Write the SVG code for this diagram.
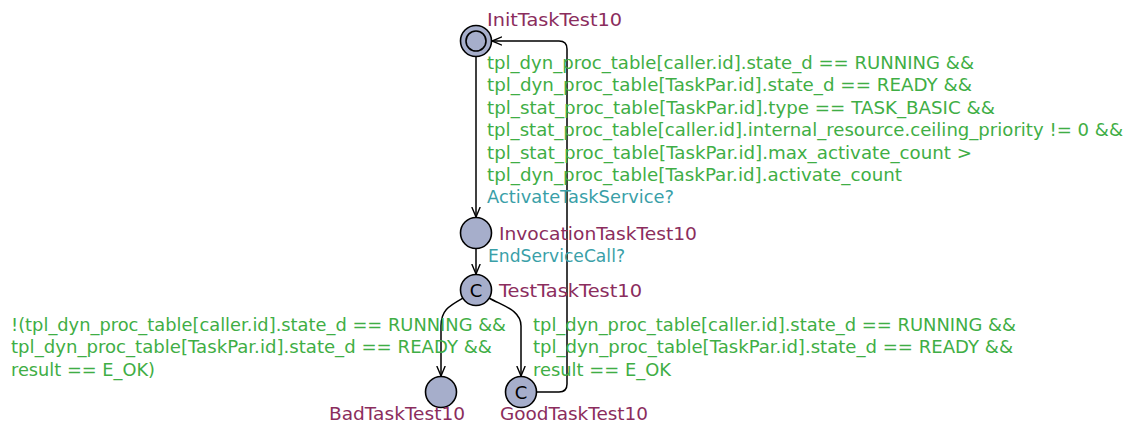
<svg xmlns="http://www.w3.org/2000/svg" width="1128" height="425" viewBox="0 0 1128 425">
<style>
text{font-family:"DejaVu Sans","Liberation Sans",sans-serif;font-size:17px}
.loc{fill:#a6aecb;stroke:#000;stroke-width:1.6}
.name{fill:#8b2d5d}
.guard{fill:#3fae45}
.sync{fill:#3a9fa8}
.edge{fill:none;stroke:#000;stroke-width:1.5}
.cc{font-size:18px;fill:#000}
</style>
<defs>
<marker id="arr" markerWidth="12" markerHeight="12" refX="10" refY="5" orient="auto" markerUnits="userSpaceOnUse" viewBox="0 0 12 10">
<path d="M0,0.8 L10,5 L0,9.2" fill="none" stroke="#000" stroke-width="1.4"/>
</marker>
</defs>
<rect width="1128" height="425" fill="#fff"/>
<g id="connectors">
<path class="edge" d="M476 56 L476 217" marker-end="url(#arr)"/>
<path class="edge" d="M476 249 L476 274" marker-end="url(#arr)"/>
<path class="edge" d="M463 298 C449 306 441 310 441 326 L441 376" marker-end="url(#arr)"/>
<path class="edge" d="M489 298 C503 306 521 310 521 326 L521 376" marker-end="url(#arr)"/>
<path class="edge" d="M536 392 L559 392 Q567 392 567 384 L567 49 Q567 41 559 41 L492 41" marker-end="url(#arr)"/>
<text class="guard" x="487" y="69" textLength="487" lengthAdjust="spacingAndGlyphs">tpl_dyn_proc_table[caller.id].state_d == RUNNING &amp;&amp;</text>
<text class="guard" x="487" y="91.4" textLength="485" lengthAdjust="spacingAndGlyphs">tpl_dyn_proc_table[TaskPar.id].state_d == READY &amp;&amp;</text>
<text class="guard" x="487" y="113.8" textLength="508" lengthAdjust="spacingAndGlyphs">tpl_stat_proc_table[TaskPar.id].type == TASK_BASIC &amp;&amp;</text>
<text class="guard" x="487" y="136.2" textLength="636" lengthAdjust="spacingAndGlyphs">tpl_stat_proc_table[caller.id].internal_resource.ceiling_priority != 0 &amp;&amp;</text>
<text class="guard" x="487" y="158.6" textLength="485" lengthAdjust="spacingAndGlyphs">tpl_stat_proc_table[TaskPar.id].max_activate_count &gt;</text>
<text class="guard" x="487" y="181" textLength="415" lengthAdjust="spacingAndGlyphs">tpl_dyn_proc_table[TaskPar.id].activate_count</text>
<text class="sync" x="487" y="203.4" textLength="187" lengthAdjust="spacingAndGlyphs">ActivateTaskService?</text>
<text class="sync" x="488" y="262" textLength="137" lengthAdjust="spacingAndGlyphs">EndServiceCall?</text>
<text class="guard" x="11" y="331" textLength="495" lengthAdjust="spacingAndGlyphs">!(tpl_dyn_proc_table[caller.id].state_d == RUNNING &amp;&amp;</text>
<text class="guard" x="11" y="353.4" textLength="481" lengthAdjust="spacingAndGlyphs">tpl_dyn_proc_table[TaskPar.id].state_d == READY &amp;&amp;</text>
<text class="guard" x="11" y="375.8" textLength="144" lengthAdjust="spacingAndGlyphs">result == E_OK)</text>
<text class="guard" x="533" y="331" textLength="483" lengthAdjust="spacingAndGlyphs">tpl_dyn_proc_table[caller.id].state_d == RUNNING &amp;&amp;</text>
<text class="guard" x="533" y="353.4" textLength="480" lengthAdjust="spacingAndGlyphs">tpl_dyn_proc_table[TaskPar.id].state_d == READY &amp;&amp;</text>
<text class="guard" x="533" y="375.8" textLength="138" lengthAdjust="spacingAndGlyphs">result == E_OK</text>
</g>
<g id="InitTaskTest10">
<circle class="loc" cx="476" cy="41" r="15.5"/>
<circle class="loc" cx="476" cy="41" r="10"/>
<text class="name" x="487" y="25.5" textLength="135" lengthAdjust="spacingAndGlyphs">InitTaskTest10</text>
</g>
<g id="InvocationTaskTest10">
<circle class="loc" cx="476" cy="233" r="15.5"/>
<text class="name" x="499" y="240" textLength="198" lengthAdjust="spacingAndGlyphs">InvocationTaskTest10</text>
</g>
<g id="TestTaskTest10">
<circle class="loc" cx="476" cy="290" r="15.5"/>
<text class="cc" x="476" y="296.5" text-anchor="middle">C</text>
<text class="name" x="499" y="297" textLength="143" lengthAdjust="spacingAndGlyphs">TestTaskTest10</text>
</g>
<g id="BadTaskTest10">
<circle class="loc" cx="441" cy="392" r="15.5"/>
<text class="name" x="329" y="420" textLength="136" lengthAdjust="spacingAndGlyphs">BadTaskTest10</text>
</g>
<g id="GoodTaskTest10">
<circle class="loc" cx="521" cy="392" r="15.5"/>
<text class="cc" x="521" y="398.5" text-anchor="middle">C</text>
<text class="name" x="500" y="420" textLength="148" lengthAdjust="spacingAndGlyphs">GoodTaskTest10</text>
</g>
</svg>
